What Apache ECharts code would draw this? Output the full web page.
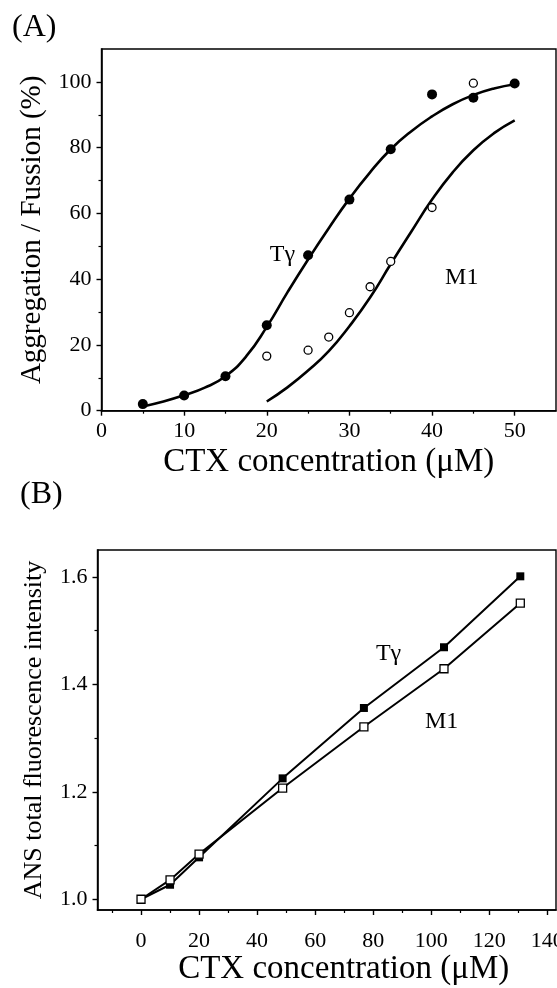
<!DOCTYPE html>
<html>
<head>
<meta charset="utf-8">
<script src="https://cdn.jsdelivr.net/npm/echarts@6/dist/echarts.min.js"></script>
<style>
  html, body { margin: 0; padding: 0; background: #fff; }
  #chart { width: 557px; height: 988px; }
</style>
</head>
<body>
<div id="chart"></div>
<script>
// Panel A: aggregation / fusion vs CTX concentration
const aTgX = [5, 10, 15, 20, 25, 30, 35, 40, 45, 50]
const aTgY = [2.0, 4.6, 10.5, 26.0, 47.3, 64.2, 79.5, 96.2, 95.2, 99.5]
const aM1X = [20, 25, 27.5, 30, 32.5, 35, 40, 45]
const aM1Y = [16.6, 18.4, 22.4, 29.8, 37.7, 45.4, 61.8, 99.6]
// fitted curves
const aTgFitX = [5, 7.5, 10, 12.5, 15, 17.5, 20, 22.5, 25, 27.5, 30, 32.5, 35, 37.5, 40, 42.5, 45, 47.5, 50]
const aTgFitY = [1.3, 2.8, 4.7, 7.0, 10.5, 16.5, 25.5, 36.0, 46.0, 55.5, 64.5, 72.5, 79.5, 85.0, 89.5, 93.2, 96.0, 98.0, 99.3]
const aM1FitX = [20, 22.5, 25, 27.5, 30, 32.5, 35, 37.5, 40, 42.5, 45, 47.5, 50]
const aM1FitY = [2.8, 7.1, 12.2, 18.1, 25.7, 34.4, 44.6, 54.5, 64.2, 72.5, 79.2, 84.4, 88.3]

// Panel B: ANS fluorescence vs CTX concentration
const bX = [0, 10, 20, 48.8, 76.8, 104.4, 130.7]
const bTgY = [1.0, 1.027, 1.078, 1.225, 1.356, 1.469, 1.601]
const bM1Y = [1.0, 1.036, 1.084, 1.207, 1.321, 1.429, 1.551]

const aXTicks = [0, 10, 20, 30, 40, 50]
const aXMinor = [5, 15, 25, 35, 45]
const aYTicks = [0, 20, 40, 60, 80, 100]
const aYMinor = [10, 30, 50, 70, 90]
const bXTicks = [0, 20, 40, 60, 80, 100, 120, 140]
const bXMinor = [-10, 10, 30, 50, 70, 90, 110, 130]
const bYTicks = [1.0, 1.2, 1.4, 1.6]
const bYMinor = [1.1, 1.3, 1.5]

// curve labels: [gridIndex, x, y, text]
const curveLabels = [
  [0, 21.9, 47.4, 'Tγ'],
  [0, 43.6, 40.5, 'M1'],
  [1, 85.3, 1.457, 'Tγ'],
  [1, 103.6, 1.331, 'M1']
]

const SERIF = '"Liberation Serif", "Times New Roman", serif'
const pairs = (xs, ys) => xs.map((x, i) => [x, ys[i]])

const chart = echarts.init(document.getElementById('chart'), null, { renderer: 'canvas' })

function mainAxis (grid, min, max, ticks, fmt, extra) {
  return Object.assign({
    type: 'value', gridIndex: grid, min: min, max: max,
    axisLine: { show: true, onZero: false, lineStyle: { color: '#000', width: 1.6 } },
    axisTick: { show: true, inside: false, length: 5, customValues: ticks, lineStyle: { color: '#000', width: 1.4 } },
    axisLabel: { show: true, customValues: ticks, formatter: fmt, color: '#000', fontFamily: SERIF, fontSize: 22, margin: 10 },
    splitLine: { show: false }
  }, extra)
}

function minorAxis (grid, min, max, ticks, pos) {
  return {
    type: 'value', gridIndex: grid, min: min, max: max, position: pos,
    axisLine: { show: false, onZero: false },
    axisTick: { show: true, inside: false, length: 3, customValues: ticks, lineStyle: { color: '#000', width: 1.2 } },
    axisLabel: { show: false },
    splitLine: { show: false }
  }
}

const option = {
  animation: false,
  backgroundColor: '#fff',
  grid: [
    { left: 101.5, top: 49, right: 1, height: 361.7, show: true, borderColor: '#000', borderWidth: 1.4, outerBoundsMode: 'none' },
    { left: 97.5, top: 550, right: 1, height: 360, show: true, borderColor: '#000', borderWidth: 1.4, outerBoundsMode: 'none' }
  ],
  xAxis: [
    mainAxis(0, 0, 55, aXTicks, v => String(v), {
      position: 'bottom', name: 'CTX concentration (μM)', nameLocation: 'middle', nameGap: 35,
      nameTextStyle: { color: '#000', fontFamily: SERIF, fontSize: 33 }
    }),
    minorAxis(0, 0, 55, aXMinor, 'bottom'),
    mainAxis(1, -15, 143, bXTicks, v => String(v), {
      position: 'bottom', name: 'CTX concentration (μM)', nameLocation: 'middle', nameGap: 41,
      nameTextStyle: { color: '#000', fontFamily: SERIF, fontSize: 33, padding: [0, 0, 0, 34] },
      axisLabel: { show: true, customValues: bXTicks, color: '#000', fontFamily: SERIF, fontSize: 22, margin: 20 }
    }),
    minorAxis(1, -15, 143, bXMinor, 'bottom')
  ],
  yAxis: [
    mainAxis(0, 0, 110, aYTicks, v => String(v), {
      position: 'left', name: 'Aggregation / Fussion (%)', nameLocation: 'middle', nameGap: 55,
      nameTextStyle: { color: '#000', fontFamily: SERIF, fontSize: 29 }
    }),
    minorAxis(0, 0, 110, aYMinor, 'left'),
    mainAxis(1, 0.98, 1.65, bYTicks, v => v.toFixed(1), {
      position: 'left', name: 'ANS total fluorescence intensity', nameLocation: 'middle', nameGap: 50,
      nameTextStyle: { color: '#000', fontFamily: SERIF, fontSize: 26 }
    }),
    minorAxis(1, 0.98, 1.65, bYMinor, 'left')
  ],
  series: [
    // Panel A fits
    { type: 'line', xAxisIndex: 0, yAxisIndex: 0, data: pairs(aTgFitX, aTgFitY), smooth: true,
      showSymbol: false, symbol: 'none', lineStyle: { color: '#000', width: 2.6 }, z: 2 },
    { type: 'line', xAxisIndex: 0, yAxisIndex: 0, data: pairs(aM1FitX, aM1FitY), smooth: true,
      showSymbol: false, symbol: 'none', lineStyle: { color: '#000', width: 2.6 }, z: 2 },
    // Panel A points
    { type: 'scatter', xAxisIndex: 0, yAxisIndex: 0, data: pairs(aTgX, aTgY), symbol: 'circle', symbolSize: 10,
      itemStyle: { color: '#000', opacity: 1 }, z: 3 },
    { type: 'scatter', xAxisIndex: 0, yAxisIndex: 0, data: pairs(aM1X, aM1Y), symbol: 'circle', symbolSize: 8,
      itemStyle: { color: '#fff', borderColor: '#000', borderWidth: 1.3, opacity: 1 }, z: 3 },
    // Panel B
    { type: 'line', xAxisIndex: 2, yAxisIndex: 2, data: pairs(bX, bTgY), symbol: 'rect', symbolSize: 8,
      lineStyle: { color: '#000', width: 2 }, itemStyle: { color: '#000' }, z: 3 },
    { type: 'line', xAxisIndex: 2, yAxisIndex: 2, data: pairs(bX, bM1Y), symbol: 'rect', symbolSize: 8,
      lineStyle: { color: '#000', width: 2 }, itemStyle: { color: '#fff', borderColor: '#000', borderWidth: 1.3 }, z: 4 }
  ]
}

chart.setOption(option)

// panel letters and curve labels, placed through the axes
const gfx = [
  { type: 'text', left: 12, top: 12, style: { text: '(A)', fontFamily: SERIF, fontSize: 32, fill: '#000' } },
  { type: 'text', left: 20, top: 479, style: { text: '(B)', fontFamily: SERIF, fontSize: 32, fill: '#000' } }
]
curveLabels.forEach(([g, x, y, t]) => {
  const p = chart.convertToPixel({ gridIndex: g }, [x, y])
  gfx.push({ type: 'text', x: p[0], y: p[1], z: 10,
    style: { text: t, fontFamily: SERIF, fontSize: 24, fill: '#000', align: 'center', verticalAlign: 'middle' } })
})
chart.setOption({ graphic: gfx })
</script>
</body>
</html>
